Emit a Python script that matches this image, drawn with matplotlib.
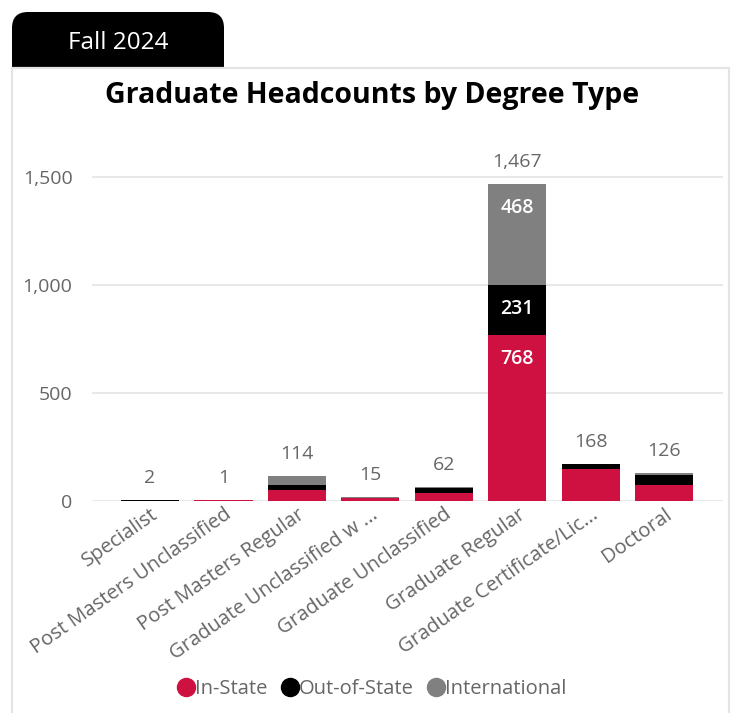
import matplotlib
matplotlib.use("Agg")
import matplotlib.pyplot as plt
from matplotlib.patches import FancyBboxPatch, Rectangle
from matplotlib.lines import Line2D
import numpy as np

plt.rcParams['font.family'] = ['Open Sans', 'DejaVu Sans']

categories = ["Specialist", "Post Masters Unclassified", "Post Masters Regular",
              "Graduate Unclassified w ...", "Graduate Unclassified", "Graduate Regular",
              "Graduate Certificate/Lic...", "Doctoral"]
in_state = [0, 1, 50, 11, 37, 768, 147, 74]
out_state = [2, 0, 20, 0, 23, 231, 21, 46]
international = [0, 0, 44, 4, 2, 468, 0, 6]
totals = [2, 1, 114, 15, 62, 1467, 168, 126]
yticks = [0, 500, 1000, 1500]
series_names = ["In-State", "Out-of-State", "International"]

RED = "#CE1141"
BLACK = "#000000"
GRAY = "#808080"
TXT = "#666666"

W, H = 735, 713
fig = plt.figure(figsize=(W / 100, H / 100), dpi=100)
fig.patch.set_facecolor("white")

# background panel and tab
bg = fig.add_axes([0, 0, 1, 1])
bg.set_xlim(0, W)
bg.set_ylim(H, 0)
bg.axis("off")
bg.add_patch(FancyBboxPatch((12, 12), 212, 70, boxstyle="round,pad=0,rounding_size=16",
                            facecolor="black", edgecolor="none"))
bg.add_patch(Rectangle((12, 68), 717, 650, facecolor="white", edgecolor="#E4E4E4", lw=1.6))
bg.text(118, 43, "Fall 2024", color="white", fontsize=17.5, ha="center", va="center")
bg.text(372, 96, "Graduate Headcounts by Degree Type", color="black", fontsize=20.5,
        fontweight="bold", ha="center", va="center")

# plot axes
left, right, bottom_px, top_px = 92, 723, 500.5, 145
ax = fig.add_axes([left / W, (H - bottom_px) / H, (right - left) / W, (bottom_px - top_px) / H])
ax.set_facecolor("none")
units_per_px = 1500 / (bottom_px - 176.7)
ax.set_ylim(0, (bottom_px - top_px) * units_per_px)
ax.set_xlim(-0.79, 7.8)

x = np.arange(len(categories))
bw = 0.79
ins = np.array(in_state)
outs = np.array(out_state)
intl = np.array(international)
ax.bar(x, ins, bw, color=RED, zorder=3)
ax.bar(x, outs, bw, bottom=ins, color=BLACK, zorder=3)
ax.bar(x, intl, bw, bottom=ins + outs, color=GRAY, zorder=3)

for xi, t, top in zip(x, totals, ins + outs + intl):
    ax.annotate(f"{t:,}", (xi, top), xytext=(0, 13), textcoords="offset pixels",
                ha="center", va="bottom", color=TXT, fontsize=14)

# inner labels (inside end) for large segments
for xi in x:
    segs = [(ins[xi], 0), (outs[xi], ins[xi]), (intl[xi], ins[xi] + outs[xi])]
    for val, b in segs:
        if val >= 200:
            ax.annotate(f"{val:,}", (xi, b + val), xytext=(0, -24), textcoords="offset pixels",
                        ha="center", va="center", color="white", fontsize=14,
                        fontweight="semibold", zorder=4)

ax.set_yticks(yticks)
ax.set_yticklabels([f"{v:,}" for v in yticks])
ax.yaxis.grid(True, color="#E6E6E6", lw=1.3, zorder=0)
ax.set_axisbelow(True)
for s in ax.spines.values():
    s.set_visible(False)
ax.tick_params(axis="both", length=0, colors=TXT, labelsize=14)
ax.tick_params(axis="y", pad=14)
ax.set_xticks(x)
ax.set_xticklabels(categories, rotation=35, ha="right", rotation_mode="anchor",
                   color=TXT, fontsize=14.5)
ax.tick_params(axis="x", pad=3)

# legend
handles = [Line2D([0], [0], marker="o", color="none", markerfacecolor=c, markeredgecolor=c,
                  markersize=13) for c in (RED, BLACK, GRAY)]
leg = fig.legend(handles, series_names, loc="center", bbox_to_anchor=(370 / W, 1 - 689 / H),
                 ncol=3, frameon=False, fontsize=14.5, handletextpad=-0.15, columnspacing=0.5,
                 handlelength=1.2)
for t in leg.get_texts():
    t.set_color(TXT)

fig.savefig("out.png", dpi=100, facecolor="white")
